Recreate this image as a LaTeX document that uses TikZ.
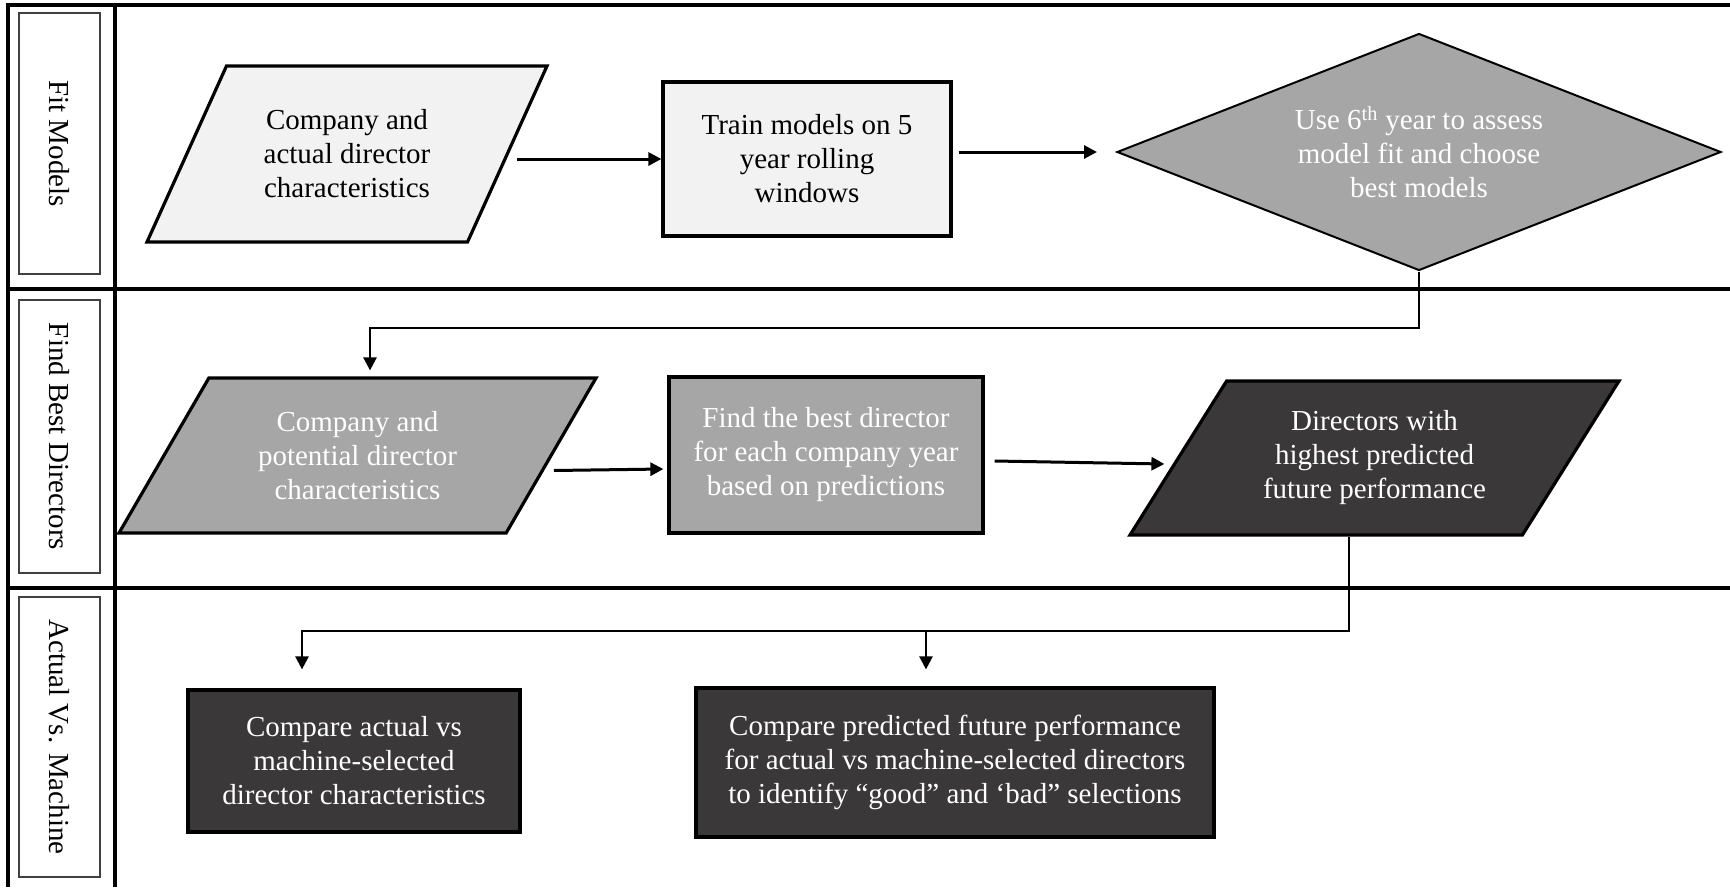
\documentclass[tikz,border=0pt]{standalone}
\usepackage{fontspec}
\setmainfont{Liberation Serif}
\usetikzlibrary{shapes.geometric,arrows.meta}
\definecolor{lightfill}{HTML}{F2F2F2}
\definecolor{midfill}{HTML}{A6A6A6}
\definecolor{darkfill}{HTML}{3A3838}
\tikzset{
	txt/.style={font=\fontsize{29}{34}\selectfont, align=center},
	procbox/.style={txt, draw, line width=3.2pt, rectangle, inner sep=2pt},
	databox/.style={txt, draw, line width=3.2pt, trapezium, trapezium stretches body, inner sep=2pt},
	lanelabel/.style={draw=black!75, line width=1.6pt, minimum height=81pt, font=\fontsize{29}{34}\selectfont, rotate=-90},
	lane/.style={line width=3.4pt},
	arr/.style={line width=3pt, -{Triangle[length=13pt,width=13pt]}},
	link/.style={line width=2.4pt, -{Triangle[length=13pt,width=13pt]}}
}
\begin{document}
\begin{tikzpicture}[x=1pt,y=-1pt]
	\useasboundingbox (0,0) rectangle (1730,887);

	% Swimlanes
	\draw[lane] (8,887) -- (8,5) -- (1730,5);
	\draw[lane] (115,5) -- (115,887);
	\draw[lane] (8,289) -- (1730,289);
	\draw[lane] (8,588) -- (1730,588);

	\node[lanelabel, minimum width=261pt] (lfit) at (59.5,143.5) {Fit Models};
	\node[lanelabel, minimum width=273pt] (lfind) at (59.5,436.5) {Find Best Directors};
	\node[lanelabel, minimum width=280pt] (lcomp) at (59.5,737) {Actual Vs. Machine};

	% Fit models
	\node[databox, fill=lightfill, trapezium left angle=49.3, trapezium right angle=130.7,
		minimum width=400pt, minimum height=176pt] (cac) at (347,154)
		{Company and\\actual director\\characteristics};
	\node[procbox, fill=lightfill, minimum width=288pt, minimum height=154pt] (train) at (807,159)
		{Train models on 5\\year rolling\\windows};
	\node[txt, diamond, draw, line width=2pt, fill=midfill, text=white, aspect=2.55,
		minimum width=604pt, minimum height=237pt, inner sep=0pt] (fit) at (1419,152)
		{Use 6\textsuperscript{th} year to assess\\model fit and choose\\best models};

	% Find best directors
	\node[databox, fill=midfill, text=white, trapezium left angle=45.8, trapezium right angle=134.2,
		minimum width=477pt, minimum height=155pt] (cpd) at (357.5,455.5)
		{Company and\\potential director\\characteristics};
	\node[procbox, fill=midfill, text=white, minimum width=314pt, minimum height=156pt] (best) at (826,455)
		{Find the best director\\for each company year\\based on predictions};
	\node[databox, fill=darkfill, text=white, trapezium left angle=45.5, trapezium right angle=134.5,
		minimum width=489pt, minimum height=154pt] (top) at (1374.5,458)
		{Directors with\\highest predicted\\future performance};

	% Actual vs machine
	\node[procbox, fill=darkfill, text=white, minimum width=332pt, minimum height=142pt] (cmpchar) at (354,761)
		{Compare actual vs\\machine-selected\\director characteristics};
	\node[procbox, fill=darkfill, text=white, minimum width=518pt, minimum height=149pt] (cmpperf) at (955,762.5)
		{Compare predicted future performance\\for actual vs machine-selected directors\\to identify “good” and ‘bad” selections};

	% Connectors
	\coordinate (bend1) at (370,328);
	\coordinate (bend2) at (302,631);
	\coordinate (fork) at (926,631);

	\draw[arr] ([xshift=8pt]cac.east |- train.west) -- (train.west);
	\draw[arr] ([xshift=6pt]train.east |- fit.west) -- ([xshift=-19pt]fit.west);
	\draw[link] (fit.south) |- (bend1) -- ([yshift=6pt]bend1 |- cpd.north);
	\draw[arr] ([xshift=1pt,yshift=-15pt]cpd.east) -- ([xshift=-4pt,yshift=-14pt]best.west);
	\draw[arr] ([xshift=10pt,yshift=-6pt]best.east) -- ([xshift=-12pt,yshift=-6pt]top.west);
	\draw[link] ([xshift=-25.5pt]top.south) |- (bend2) -- ([yshift=19pt]bend2 |- cmpchar.north);
	\draw[link] (fork) -- ([yshift=17pt]fork |- cmpperf.north);

\end{tikzpicture}
\end{document}
